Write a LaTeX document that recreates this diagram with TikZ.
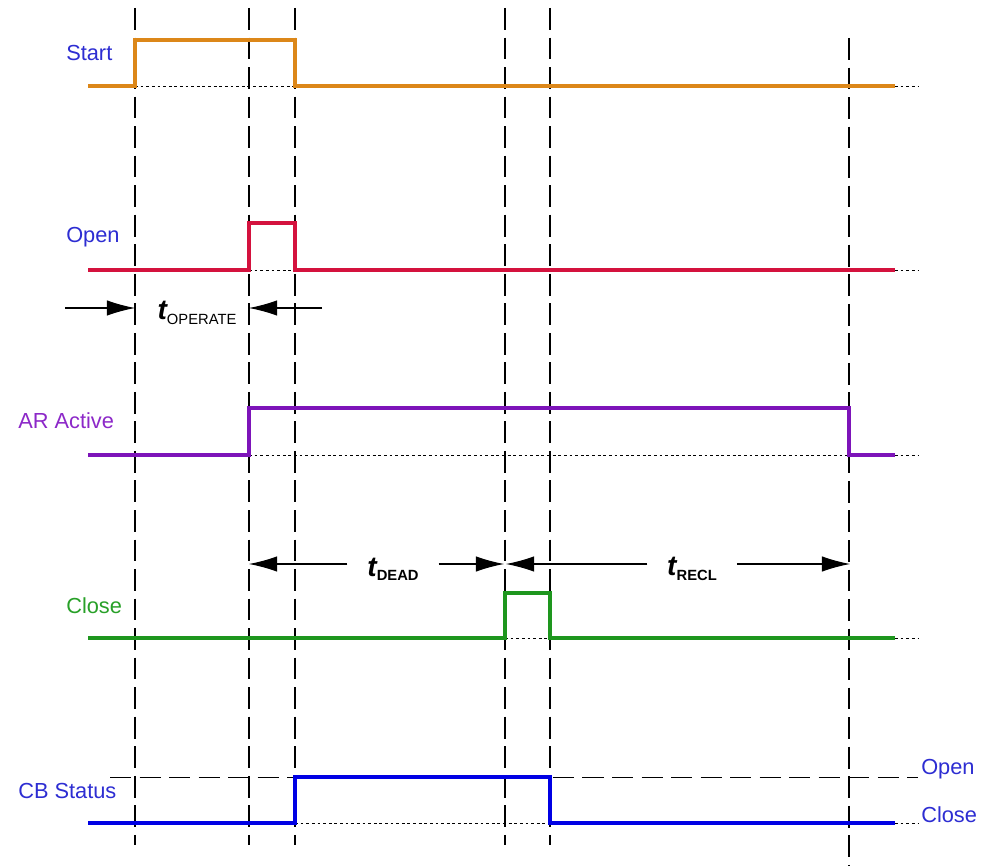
\documentclass[tikz,border=0pt]{standalone}
\usepackage{fontspec}
\setmainfont{Liberation Sans}
\usetikzlibrary{arrows.meta}

\definecolor{startcol}{RGB}{220,135,25}
\definecolor{opencol}{RGB}{212,18,62}
\definecolor{arcol}{RGB}{125,20,185}
\definecolor{closecol}{RGB}{30,150,30}
\definecolor{cbcol}{RGB}{0,0,228}
\definecolor{bluetext}{RGB}{45,45,210}
\definecolor{purpletext}{RGB}{140,40,200}
\definecolor{greentext}{RGB}{40,160,40}

\newcommand{\tname}[2]{{\fontsize{20}{20}\selectfont\bfseries\itshape t}\raisebox{-3pt}{\fontsize{10.5}{12}\selectfont #1#2}}

\begin{document}
\begin{tikzpicture}[
    x=0.025cm, y=-0.025cm,
    signal/.style={line width=2.3pt, line join=miter},
    guide/.style={draw=black, line width=0.75pt, dash pattern=on 15.5pt off 5.5pt},
    level/.style={draw=black, line width=0.7pt, dash pattern=on 15pt off 6pt},
    dotbase/.style={draw=black, line width=0.6pt, dash pattern=on 2pt off 2pt},
    siglabel/.style={anchor=west, inner sep=0pt, font=\fontsize{15.5}{18}\selectfont},
    timelabel/.style={inner xsep=14pt, inner ysep=0pt},
    dim/.style={->, >={Latex[length=20pt, width=11pt]}, draw=black, line width=0.75pt}
]
\useasboundingbox (0,0) rectangle (988,866);

% Guide lines
\draw[guide] (135,8) -- (135,845);
\draw[guide] (249,8) -- (249,845);
\draw[guide] (295,8) -- (295,845);
\draw[guide] (505,8) -- (505,845);
\draw[guide] (550,8) -- (550,845);
\draw[guide] (849,38) -- (849,866);

% Start
\draw[dotbase] (135,86) -- (295,86);
\draw[dotbase] (895,86) -- (918,86);
\draw[signal, startcol] (88,86) -- (135,86) -- (135,40) -- (295,40) -- (295,86) -- (895,86);
\node[siglabel, text=bluetext] (lblstart) at (66,53) {Start};

% Open
\draw[dotbase] (249,270) -- (295,270);
\draw[dotbase] (895,270) -- (918,270);
\draw[signal, opencol] (88,270) -- (249,270) -- (249,223) -- (295,223) -- (295,270) -- (895,270);
\node[siglabel, text=bluetext] (lblopen) at (66,237) {Open};

% Operate time
\coordinate (opfrom) at (65,308);
\coordinate (opstart) at (135,308);
\coordinate (opto) at (322,308);
\coordinate (opend) at (249,308);
\draw[dim] (opfrom) -- (opstart);
\draw[dim] (opto) -- (opend);
\node (toperate) at (197,313) {\tname{OPERATE}{}};

% AR Active
\draw[dotbase] (249,455) -- (849,455);
\draw[dotbase] (895,455) -- (918,455);
\draw[signal, arcol] (88,455) -- (249,455) -- (249,408) -- (849,408) -- (849,455) -- (895,455);
\node[siglabel, text=purpletext] (lblar) at (18,421) {AR Active};

% Dead and reclaim time
\coordinate (deadstart) at (249,564);
\coordinate (deadend) at (504,564);
\coordinate (reclstart) at (506,564);
\coordinate (reclend) at (850,564);
\node[timelabel] (tdead) at (393,569) {\tname{\bfseries DEAD}{}};
\node[timelabel] (trecl) at (692,569) {\tname{\bfseries RECL}{}};
\draw[dim] (tdead.west |- deadstart) -- (deadstart);
\draw[dim] (tdead.east |- deadend) -- (deadend);
\draw[dim] (trecl.west |- reclstart) -- (reclstart);
\draw[dim] (trecl.east |- reclend) -- (reclend);

% Close
\draw[dotbase] (505,638) -- (550,638);
\draw[dotbase] (895,638) -- (918,638);
\draw[signal, closecol] (88,638) -- (505,638) -- (505,593) -- (550,593) -- (550,638) -- (895,638);
\node[siglabel, text=greentext] (lblclose) at (66,606) {Close};

% CB Status
\draw[level] (110,777) -- (918,777);
\draw[dotbase] (295,823) -- (550,823);
\draw[dotbase] (895,823) -- (918,823);
\draw[signal, cbcol] (88,823) -- (295,823) -- (295,777) -- (550,777) -- (550,823) -- (895,823);
\node[siglabel, text=bluetext] (lblcb) at (18,791) {CB Status};
\node[siglabel, text=bluetext] (cbopen) at (921,769) {Open};
\node[siglabel, text=bluetext] (cbclose) at (921,815) {Close};

\end{tikzpicture}
\end{document}
